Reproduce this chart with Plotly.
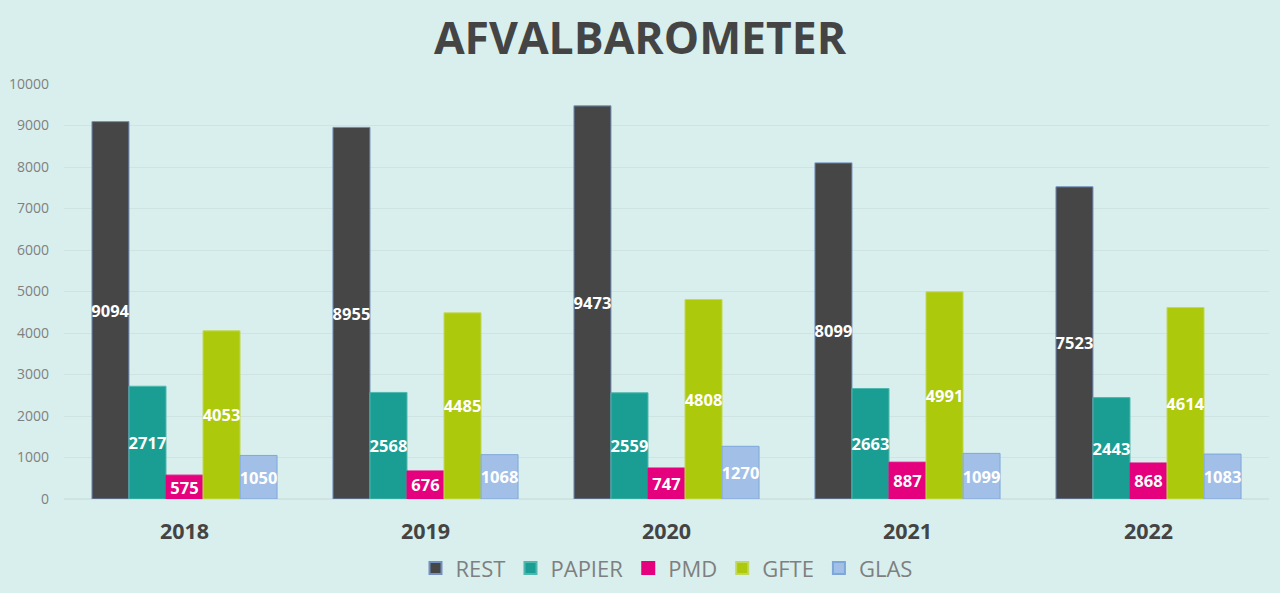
import plotly.graph_objects as go

years = ["2018", "2019", "2020", "2021", "2022"]
series_names = ["REST", "PAPIER", "PMD", "GFTE", "GLAS"]
rest = [9094, 8955, 9473, 8099, 7523]
papier = [2717, 2568, 2559, 2663, 2443]
pmd = [575, 676, 747, 887, 868]
gfte = [4053, 4485, 4808, 4991, 4614]
glas = [1050, 1068, 1270, 1099, 1083]
y_ticks = [0, 1000, 2000, 3000, 4000, 5000, 6000, 7000, 8000, 9000, 10000]
y_tick_labels = ["0", "1000", "2000", "3000", "4000", "5000", "6000", "7000", "8000", "9000", "10000"]

colors = ["#464646", "#1a9e93", "#e5007e", "#adc90c", "#a2c0e7"]
line_colors = ["#7390c0", "#4fb8ae", "#e5007e", "#c2d85a", "#7ea7d9"]
values = [rest, papier, pmd, gfte, glas]

FONT = "Open Sans"
fig = go.Figure()
for name, vals, c, lc in zip(series_names, values, colors, line_colors):
    fig.add_trace(go.Bar(
        x=years, y=vals, name=name,
        marker=dict(color=c, line=dict(color=lc, width=1)),
        text=[str(v) for v in vals],
        textposition="inside", insidetextanchor="middle",
        textangle=0, constraintext="none",
        textfont=dict(family=FONT, size=16.5, color="white", weight="bold"),
        cliponaxis=False,
    ))

fig.update_layout(
    width=1280, height=593,
    paper_bgcolor="#d9efed", plot_bgcolor="#d9efed",
    barmode="group", bargap=0.232, bargroupgap=0,
    margin=dict(l=64, r=11, t=84, b=94, autoexpand=False),
    title=dict(text="AFVALBAROMETER", x=0.5, xanchor="center",
               y=1 - 38 / 593, yref="container", yanchor="middle",
               font=dict(family=FONT, size=44.5, color="#444444", weight="bold")),
    legend=dict(orientation="h", x=0.5, xanchor="center", y=-0.167, yanchor="middle",
                font=dict(family=FONT, size=22, color="#7f7f7f"),
                itemwidth=30, itemsizing="constant", traceorder="normal"),
    font=dict(family=FONT),
)
fig.update_yaxes(range=[0, 10000], tickvals=y_ticks, ticktext=y_tick_labels,
                 showgrid=True, gridcolor="#cfe3e1",
                 gridwidth=1, zeroline=True, zerolinecolor="#cfe3e1",
                 tickfont=dict(family=FONT, size=14, color="#808080"),
                 ticklabelstandoff=14, showline=False)
fig.update_xaxes(tickfont=dict(family=FONT, size=21.5, color="#444444", weight="bold"),
                 ticklabelstandoff=17, showline=False, ticks="")

fig.write_html("out.html")
